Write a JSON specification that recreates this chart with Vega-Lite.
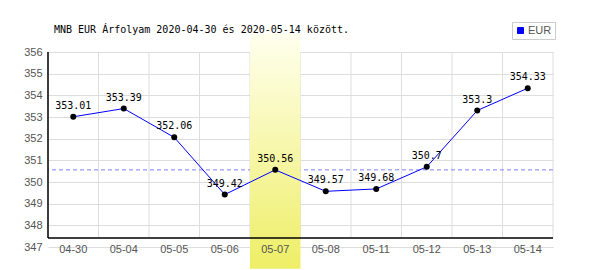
{
  "$schema": "https://vega.github.io/schema/vega-lite/v6.json",
  "width": 505,
  "height": 195,
  "autosize": {"type": "none"},
  "padding": {"left": 48, "top": 52, "right": 47, "bottom": 23},
  "background": "white",
  "config": {
    "view": {"stroke": null},
    "axis": {"gridColor": "#dddddd", "gridWidth": 1, "gridOpacity": 1}
  },
  "title": {
    "text": "MNB EUR Árfolyam 2020-04-30 és 2020-05-14 között.",
    "anchor": "start",
    "frame": "group",
    "font": "DejaVu Sans Mono",
    "fontSize": 10,
    "fontWeight": "normal",
    "color": "#000000",
    "dx": 6,
    "dy": 21,
    "baseline": "alphabetic",
    "offset": 0
  },
  "data": {
    "values": [
      {"d": "04-30", "v": 353.01},
      {"d": "05-04", "v": 353.39},
      {"d": "05-05", "v": 352.06},
      {"d": "05-06", "v": 349.42},
      {"d": "05-07", "v": 350.56},
      {"d": "05-08", "v": 349.57},
      {"d": "05-11", "v": 349.68},
      {"d": "05-12", "v": 350.7},
      {"d": "05-13", "v": 353.3},
      {"d": "05-14", "v": 354.33}
    ]
  },
  "layer": [
    {
      "mark": {"type": "rule", "color": "#dddddd", "strokeWidth": 1},
      "encoding": {
        "x": {
          "field": "d",
          "type": "ordinal",
          "bandPosition": 0,
          "sort": ["04-30","05-04","05-05","05-06","05-07","05-08","05-11","05-12","05-13","05-14"],
          "scale": {"paddingInner": 0, "paddingOuter": 0},
          "axis": {
            "title": null,
            "bandPosition": 0.5,
            "grid": false,
            "domain": false,
            "ticks": false,
            "zindex": 1,
            "labelAngle": 0,
            "labelAlign": "center",
            "labelBaseline": "middle",
            "labelPadding": 2,
            "labelFlush": false,
            "labelFont": "Liberation Sans",
            "labelFontSize": 11,
            "labelColor": "#555555"
          }
        },
        "y": {
          "datum": 356,
          "type": "quantitative",
          "scale": {"domain": [347, 356], "nice": false, "zero": false},
          "axis": {
            "title": null,
            "values": [347, 348, 349, 350, 351, 352, 353, 354, 355, 356],
            "tickCount": 20,
            "format": ".0f",
            "grid": true,
            "domain": false,
            "ticks": false,
            "labelOverlap": false,
            "labelPadding": 6,
            "labelFont": "Liberation Sans",
            "labelFontSize": 11,
            "labelColor": "#555555"
          }
        },
        "y2": {"datum": 347.42}
      }
    },
    {
      "data": {"values": [{"d": "05-14"}]},
      "mark": {"type": "rule", "color": "#dddddd", "strokeWidth": 1},
      "encoding": {
        "x": {"field": "d", "type": "ordinal", "bandPosition": 1},
        "y": {"datum": 356, "type": "quantitative"},
        "y2": {"datum": 347.42}
      }
    },
    {
      "data": {"values": [{"ref": 350.56}]},
      "mark": {"type": "rule", "color": "#8080ff", "strokeWidth": 1, "strokeDash": [4, 3]},
      "encoding": {
        "y": {"field": "ref", "type": "quantitative"}
      }
    },
    {
      "data": {"values": [{"d": "05-07", "top": 356.85, "bot": 346.0}]},
      "mark": {
        "type": "rect",
        "clip": false,
        "fill": {
          "gradient": "linear",
          "x1": 0, "y1": 0, "x2": 0, "y2": 1,
          "stops": [
            {"offset": 0, "color": "#ffffee"},
            {"offset": 1, "color": "#eeee66"}
          ]
        }
      },
      "encoding": {
        "x": {"field": "d", "type": "ordinal"},
        "y": {"field": "top", "type": "quantitative"},
        "y2": {"field": "bot"}
      }
    },
    {
      "data": {"values": [{"axisv": 347.42}]},
      "mark": {"type": "rule", "color": "#000000", "strokeWidth": 1.5},
      "encoding": {
        "y": {"field": "axisv", "type": "quantitative"}
      }
    },
    {
      "data": {"values": [{"d": "04-30", "a": 356, "b": 347.42}]},
      "mark": {"type": "rule", "color": "#000000", "strokeWidth": 1.5},
      "encoding": {
        "x": {"field": "d", "type": "ordinal", "bandPosition": 0},
        "y": {"field": "a", "type": "quantitative"},
        "y2": {"field": "b"}
      }
    },
    {
      "mark": {"type": "line", "strokeWidth": 1},
      "encoding": {
        "x": {"field": "d", "type": "ordinal"},
        "y": {"field": "v", "type": "quantitative"},
        "color": {
          "datum": "EUR",
          "type": "nominal",
          "scale": {"range": ["#0000ff"]},
          "legend": {
            "title": null,
            "orient": "none",
            "legendX": 464,
            "legendY": -30,
            "symbolType": "square",
            "symbolSize": 36,
            "symbolStrokeWidth": 1,
            "labelFont": "Liberation Sans",
            "labelFontSize": 11,
            "labelColor": "#555555",
            "labelOffset": 2,
            "padding": 3,
            "strokeColor": "#cccccc",
            "fillColor": "#ffffff",
            "labelExpr": "datum.label + '  '",
            "encode": {
              "symbols": {"update": {"fill": {"value": "#0000ff"}, "stroke": {"value": "#000044"}, "opacity": {"value": 1}}}
            }
          }
        }
      }
    },
    {
      "mark": {"type": "point", "filled": true, "color": "#000000", "size": 36, "opacity": 1},
      "encoding": {
        "x": {"field": "d", "type": "ordinal"},
        "y": {"field": "v", "type": "quantitative"}
      }
    },
    {
      "mark": {"type": "text", "font": "DejaVu Sans Mono", "fontSize": 10, "color": "#000000", "baseline": "middle", "align": "center", "dy": -11},
      "encoding": {
        "x": {"field": "d", "type": "ordinal"},
        "y": {"field": "v", "type": "quantitative"},
        "text": {"field": "v", "type": "quantitative"}
      }
    }
  ]
}
